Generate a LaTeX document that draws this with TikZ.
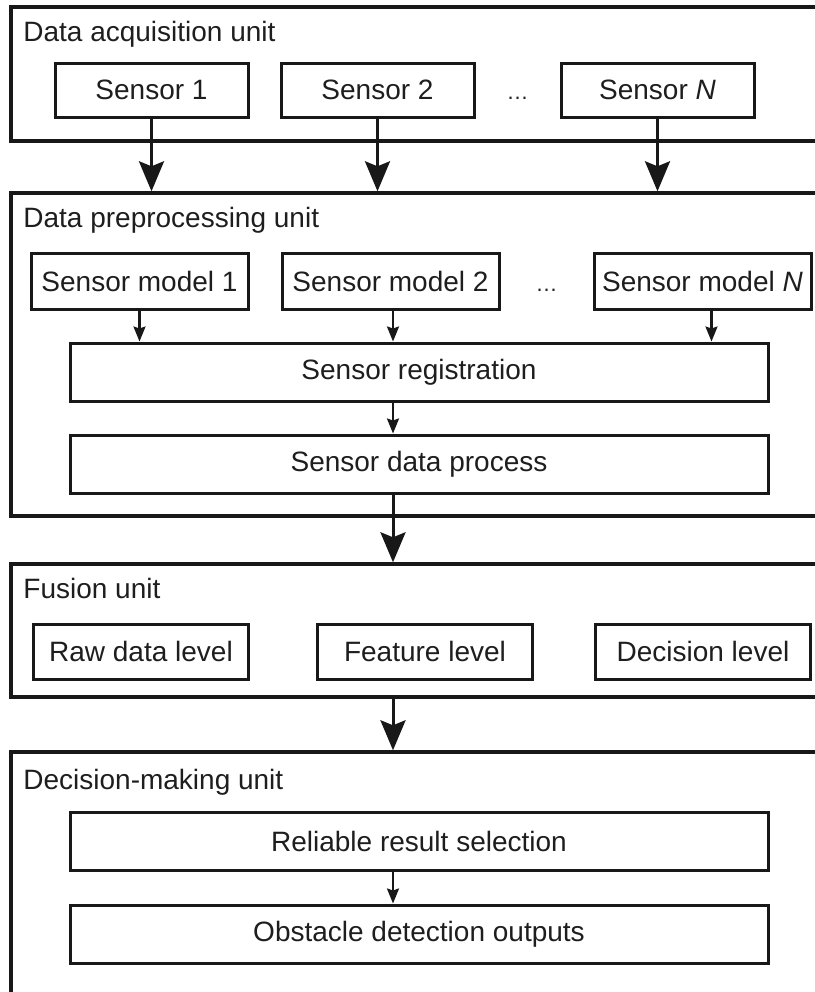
\documentclass[tikz,border=0pt]{standalone}
\usepackage{fontspec}
\setmainfont{Liberation Sans}
\usepackage{tikz}
\usetikzlibrary{arrows.meta,positioning,calc}
\definecolor{FrameInk}{RGB}{24,24,24}
\definecolor{LabelInk}{RGB}{30,30,30}
\tikzset{
  unitframe/.style={draw=FrameInk, line width=1.7pt, minimum width=409.5pt, inner sep=0pt},
  unittitle/.style={anchor=base west, inner sep=0pt, text=LabelInk, font=\fontsize{14}{17}\selectfont},
  block/.style={draw=FrameInk, line width=1.5pt, fill=white, text=LabelInk, align=center,
    inner sep=2pt, font=\fontsize{14}{17}\selectfont},
  sensorbox/.style={block, minimum width=96.5pt, minimum height=27pt},
  modelbox/.style={block, minimum width=108.5pt, minimum height=28pt},
  levelbox/.style={block, minimum width=107.5pt, minimum height=27.5pt},
  widebox/.style={block, minimum width=349pt, minimum height=29pt},
  dotsnode/.style={anchor=base, inner sep=0pt, text=LabelInk, font=\fontsize{11}{13}\selectfont},
  thinarr/.style={-{Stealth[length=7.5pt, width=6pt, inset=1pt]}, draw=FrameInk, line width=1.1pt},
  thickarr/.style={-{Stealth[length=15pt, width=12.5pt, inset=2.5pt]}, draw=FrameInk, line width=1.5pt},
}
\begin{document}
\begin{tikzpicture}[x=0.5pt, y=-0.5pt]
  \useasboundingbox (0,0) rectangle (815,992);
  \clip (0,0) rectangle (815,992);
  \coordinate (mid) at (393,0);
  % the four units
  \node[unitframe, minimum height=67pt] (acqunit) at (420.5,74) {};
  \node[unitframe, minimum height=161.5pt] (prepunit) at (420.5,354.5) {};
  \node[unitframe, minimum height=66.5pt] (fusionunit) at (420.5,630.5) {};
  \node[unitframe, minimum height=129pt] (decunit) at (420.5,881) {};
  \node[unittitle] (acqtitle) at (23,41) {Data acquisition unit};
  \node[unittitle] (preptitle) at (23,227) {Data preprocessing unit};
  \node[unittitle] (fusiontitle) at (23,598) {Fusion unit};
  \node[unittitle] (dectitle) at (23,789) {Decision-making unit};
  % acquisition
  \node[sensorbox] (s1) at (151.5,90) {Sensor 1};
  \node[sensorbox, right=15pt of s1] (s2) {Sensor 2};
  \node[sensorbox, right=42pt of s2] (sn) {Sensor \textit{N}};
  \node[dotsnode] (sdots) at ($(s2.base east)!0.5!(sn.base west)$) {…};
  % preprocessing
  \node[modelbox] (sm1) at (139.5,281) {Sensor model 1};
  \node[modelbox, right=15.5pt of sm1] (sm2) {Sensor model 2};
  \node[modelbox, right=46pt of sm2] (smn) {Sensor model \textit{N}};
  \node[dotsnode] (mdots) at ($(sm2.base east)!0.5!(smn.base west)$) {…};
  \node[widebox] (reg) at (419,372) {Sensor registration};
  \node[widebox, below=15.5pt of reg] (proc) {Sensor data process};
  % fusion
  \node[levelbox] (raw) at (141,651.5) {Raw data level};
  \node[levelbox, right=33pt of raw] (feat) {Feature level};
  \node[levelbox, right=30pt of feat] (declev) {Decision level};
  % decision making
  \node[widebox] (rel) at (419,841) {Reliable result selection};
  \node[widebox, below=16pt of rel] (obst) {Obstacle detection outputs};
  % connectors
  \draw[thickarr] (s1) -- (s1 |- prepunit.north); \draw[thickarr] (s2) -- (s2 |- prepunit.north); \draw[thickarr] (sn) -- (sn |- prepunit.north);
  \draw[thinarr] (sm1) -- (sm1 |- reg.north); \draw[thinarr] (sm2.south -| mid) -- (mid |- reg.north);
  \draw[thinarr] ([xshift=4.5pt]smn.south) -- ([xshift=4.5pt]smn.south |- reg.north);
  \draw[thinarr] (reg.south -| mid) -- (proc.north -| mid);
  \draw[thickarr] (proc.south -| mid) -- (fusionunit.north -| mid);
  \draw[thickarr] (fusionunit.south -| mid) -- (decunit.north -| mid);
  \draw[thinarr] (rel.south -| mid) -- (obst.north -| mid);
\end{tikzpicture}
\end{document}
